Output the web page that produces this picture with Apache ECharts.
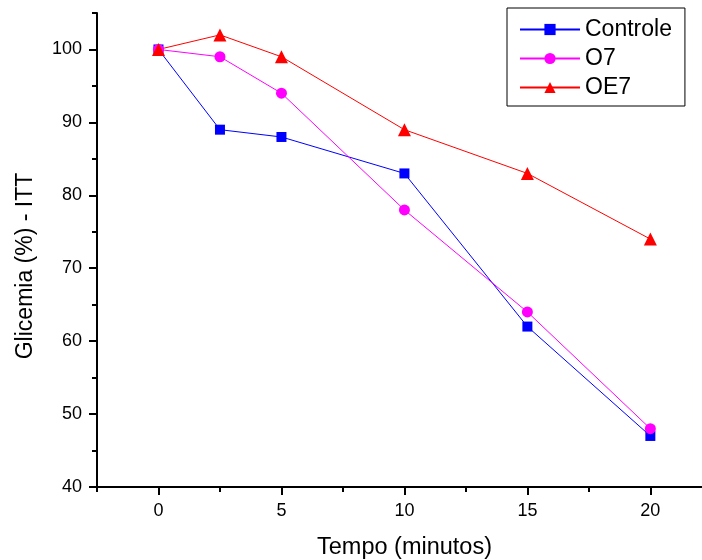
<!DOCTYPE html>
<html>
<head>
<meta charset="utf-8">
<script src="https://cdn.jsdelivr.net/npm/echarts@6/dist/echarts.min.js"></script>
<style>html,body{margin:0;padding:0;background:#fff}#c{width:702px;height:560px}</style>
</head>
<body>
<div id="c"></div>
<script>
const times = [0, 2.5, 5, 10, 15, 20];
const controle = [100, 89, 88, 83, 62, 47];
const o7 = [100, 99, 94, 78, 64, 48];
const oe7 = [100, 102, 99, 89, 83, 74];
const xMajorTicks = [0, 5, 10, 15, 20];
const xMinorTicks = [-2.5, 2.5, 7.5, 12.5, 17.5];
const yMajorTicks = [40, 50, 60, 70, 80, 90, 100];
const yMinorTicks = [45, 55, 65, 75, 85, 95, 105];

const pairs = ys => times.map((t, i) => [t, ys[i]]);
const font = '"Liberation Sans", Arial, sans-serif';
const axisLine = {show: true, onZero: false, lineStyle: {color: '#000', width: 2}};

const chart = echarts.init(document.getElementById('c'), null, {renderer: 'canvas'});
chart.setOption({
  animation: false,
  backgroundColor: '#fff',
  grid: {left: 97, right: 0, top: 13, bottom: 73, containLabel: false, outerBoundsMode: 'none'},
  legend: {
    left: 507, top: 8,
    orient: 'vertical',
    padding: [10, 13, 7, 12],
    itemWidth: 60, itemHeight: 14, itemGap: 6,
    borderColor: '#000', borderWidth: 1,
    textStyle: {fontFamily: font, fontSize: 23, color: '#000'},
    data: ['Controle', 'O7', 'OE7']
  },
  xAxis: [{
    type: 'value', min: -2.5, max: 22.1,
    name: 'Tempo (minutos)', nameLocation: 'middle', nameGap: 49,
    nameTextStyle: {fontFamily: font, fontSize: 23.5, color: '#000', padding: [0, 0, 0, 10]},
    axisLine: axisLine,
    axisTick: {show: true, inside: false, length: 8, lineStyle: {color: '#000', width: 2}, customValues: xMajorTicks},
    axisLabel: {show: true, margin: 15, fontFamily: font, fontSize: 18, color: '#000', customValues: xMajorTicks},
    splitLine: {show: false}
  }, {
    type: 'value', min: -2.5, max: 22.1, gridIndex: 0, position: 'bottom',
    axisLine: {show: false, onZero: false},
    axisTick: {show: true, length: 5, lineStyle: {color: '#000', width: 2}, customValues: xMinorTicks},
    axisLabel: {show: false, customValues: xMinorTicks},
    splitLine: {show: false}
  }],
  yAxis: [{
    type: 'value', min: 40, max: 105, position: 'left',
    name: 'Glicemia (%) - ITT', nameLocation: 'middle', nameGap: 60,
    nameTextStyle: {fontFamily: font, fontSize: 23, color: '#000', padding: [0, 32, 0, 0]},
    axisLine: axisLine,
    axisTick: {show: true, length: 8, lineStyle: {color: '#000', width: 2}, customValues: yMajorTicks},
    axisLabel: {show: true, margin: 15, fontFamily: font, fontSize: 18, color: '#000', customValues: yMajorTicks},
    splitLine: {show: false}
  }, {
    type: 'value', min: 40, max: 105, position: 'left', offset: 0,
    axisLine: {show: false, onZero: false},
    axisTick: {show: true, length: 5, lineStyle: {color: '#000', width: 2}, customValues: yMinorTicks},
    axisLabel: {show: false, customValues: yMinorTicks},
    splitLine: {show: false}
  }],
  series: [{
    name: 'Controle', type: 'line', data: pairs(controle),
    symbol: 'rect', symbolSize: 10,
    lineStyle: {color: '#0000ff', width: 1}, itemStyle: {color: '#0000ff'}
  }, {
    name: 'O7', type: 'line', data: pairs(o7),
    symbol: 'circle', symbolSize: 11,
    lineStyle: {color: '#ff00ff', width: 1}, itemStyle: {color: '#ff00ff'}
  }, {
    name: 'OE7', type: 'line', data: pairs(oe7),
    symbol: 'triangle', symbolSize: 13,
    lineStyle: {color: '#ff0000', width: 1}, itemStyle: {color: '#ff0000'}
  }]
});
</script>
</body>
</html>
